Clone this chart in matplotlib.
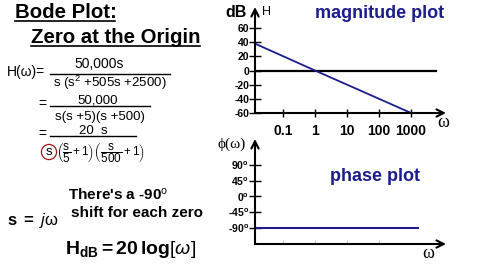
# bode_zero_origin.py
# Bode plot slide: zero at the origin

import matplotlib
matplotlib.use('agg')
import matplotlib.pyplot as plt
from matplotlib.lines import Line2D

### Data ###
mag_w = [0.0133, 1, 1000]          # rad/s
mag_db = [38, 0, -60]              # dB
zero_w = [0.0133, 6000]
zero_db = [0, 0]
phase_w = [0.0133, 1660]
phase_deg = [-90, -90]

mag_yticks = [60, 40, 20, 0, -20, -40, -60]
mag_ylabels = ['60', '40', '20', '0', '-20', '-40', '-60']
w_ticks = [0.1, 1, 10, 100, 1000]
w_labels = ['0.1', '1', '10', '100', '1000']
ph_yticks = [90, 45, 0, -45, -90]
ph_ylabels = ['90$^{\\mathbf{o}}$', '45$^{\\mathbf{o}}$', '0$^{\\mathbf{o}}$',
              '-45$^{\\mathbf{o}}$', '-90$^{\\mathbf{o}}$']

### Style ###
plt.rcParams['font.family'] = ['Liberation Sans', 'DejaVu Sans']
plt.rcParams['mathtext.fontset'] = 'custom'
plt.rcParams['mathtext.rm'] = 'Liberation Sans'
plt.rcParams['mathtext.it'] = 'Liberation Sans:italic'
plt.rcParams['mathtext.bf'] = 'Liberation Sans:bold'
NAVY = '#1c1c8c'
W, H = 480, 270

def fx(x):
    return x / W

def fy(y):
    return 1 - y / H

fig = plt.figure(figsize=(4.8, 2.7), dpi=100)

def txt(x, y, s, **kw):
    kw.setdefault('va', 'baseline')
    fig.text(fx(x), fy(y), s, **kw)

def hline(x0, x1, y, lw=1.0, color='k'):
    fig.add_artist(Line2D([fx(x0), fx(x1)], [fy(y), fy(y)], lw=lw, color=color,
                          transform=fig.transFigure))

# Titles
txt(15, 18, 'Bode Plot:', fontsize=14.7, fontweight='bold')
hline(15, 115, 20.5, lw=1.2)
txt(31, 43, 'Zero at the Origin', fontsize=14.7, fontweight='bold')
hline(31, 200, 46, lw=1.2)

# Transfer function
txt(7, 72, 'H(ω)=', fontsize=10, va='center')
txt(99, 68, '50,000s', fontsize=10, ha='center')
hline(50, 170, 74)
txt(110, 87, 's (s$^2$ +505s +2500)', fontsize=9.5, ha='center')

txt(38, 104, '=', fontsize=10, va='center')
txt(98, 103.5, '50,000', fontsize=9.5, ha='center')
hline(50, 150, 106)
txt(100, 120, 's(s +5)(s +500)', fontsize=9.5, ha='center')

txt(38, 134, '=', fontsize=10, va='center')
txt(93, 133.5, '20  s', fontsize=9.5, ha='center')
hline(50, 136, 135.5)
fig.text(fx(49), fy(152), 's', fontsize=9.5, ha='center', va='center',
         bbox=dict(boxstyle='circle,pad=0.12', fc='none', ec='#a01818', lw=0.9))
fig.text(fx(56), fy(153),
         r'$\left(\dfrac{\mathrm{s}}{5}+1\right)\left(\dfrac{\mathrm{s}}{500}+1\right)$',
         fontsize=8.5, va='center')

txt(68, 200, "There's a -90$^{\\mathrm{o}}$", fontsize=11, fontweight='bold')
txt(71, 217, 'shift for each zero', fontsize=11, fontweight='bold')
txt(7, 225, r'$\mathbf{s}$ $\mathbf{=}$ $\mathit{j}$ω', fontsize=12)
txt(65, 254, r'$\mathbf{H}_{\mathbf{dB}}\mathbf{=20\,log}[\omega]$', fontsize=14)


def arrow_axes(ax):
    for sp in ax.spines.values():
        sp.set_visible(False)
    for end in [(1, 0), (0, 1)]:
        ax.annotate('', xy=end, xytext=(0, 0), xycoords='axes fraction',
                    arrowprops=dict(arrowstyle='->', lw=1.5, color='k',
                                    mutation_scale=13, shrinkA=0, shrinkB=0))
    ax.set_facecolor('none')


# Magnitude plot
ax1 = fig.add_axes([fx(255), fy(113), 191 / W, 106 / H])
ax1.set_xscale('log')
ax1.set_xlim(10 ** -1.875, 10 ** 4.09)
ax1.set_ylim(-60, 89.7)
ax1.plot(zero_w, zero_db, color='k', lw=1.6)
ax1.plot(mag_w, mag_db, color=NAVY, lw=1.3)
arrow_axes(ax1)
ax1.set_yticks(mag_yticks)
ax1.set_yticklabels(mag_ylabels, fontsize=7.5, fontweight='bold')
ax1.set_xticks(w_ticks)
ax1.set_xticklabels(w_labels, fontsize=10, fontweight='bold')
ax1.minorticks_off()
ax1.tick_params(axis='y', direction='inout', length=8.5, width=1, pad=0)
ax1.tick_params(axis='x', direction='inout', length=5.5, width=1, pad=5)
txt(225, 17, 'dB', fontsize=11.5, fontweight='bold')
txt(262, 15, 'H', fontsize=9)
txt(380, 18, 'magnitude plot', fontsize=13, fontweight='bold', color=NAVY, ha='center')
txt(437, 127, 'ω', fontsize=13, family=['Liberation Serif', 'DejaVu Serif'])

# Phase plot
ax2 = fig.add_axes([fx(255), fy(244), 191 / W, 105 / H])
ax2.set_xscale('log')
ax2.set_xlim(10 ** -1.875, 10 ** 4.09)
ax2.set_ylim(-135.7, 164)
ax2.plot(phase_w, phase_deg, color=NAVY, lw=1.5)
arrow_axes(ax2)
ax2.set_yticks(ph_yticks)
ax2.set_yticklabels(ph_ylabels, fontsize=7.5, fontweight='bold')
ax2.set_xticks(w_ticks[:-1])
ax2.set_xticklabels([])
ax2.minorticks_off()
ax2.tick_params(axis='y', direction='inout', length=8.5, width=1, pad=0)
ax2.tick_params(axis='x', direction='in', length=3, width=0.8, color='#bbbbbb')
txt(217, 148, 'ϕ(ω)', fontsize=11, family=['Liberation Serif', 'DejaVu Serif'])
txt(375, 181, 'phase plot', fontsize=13, fontweight='bold', color=NAVY, ha='center')
txt(422, 258, 'ω', fontsize=13, family=['Liberation Serif', 'DejaVu Serif'])

fig.savefig('out.png', dpi=100)
